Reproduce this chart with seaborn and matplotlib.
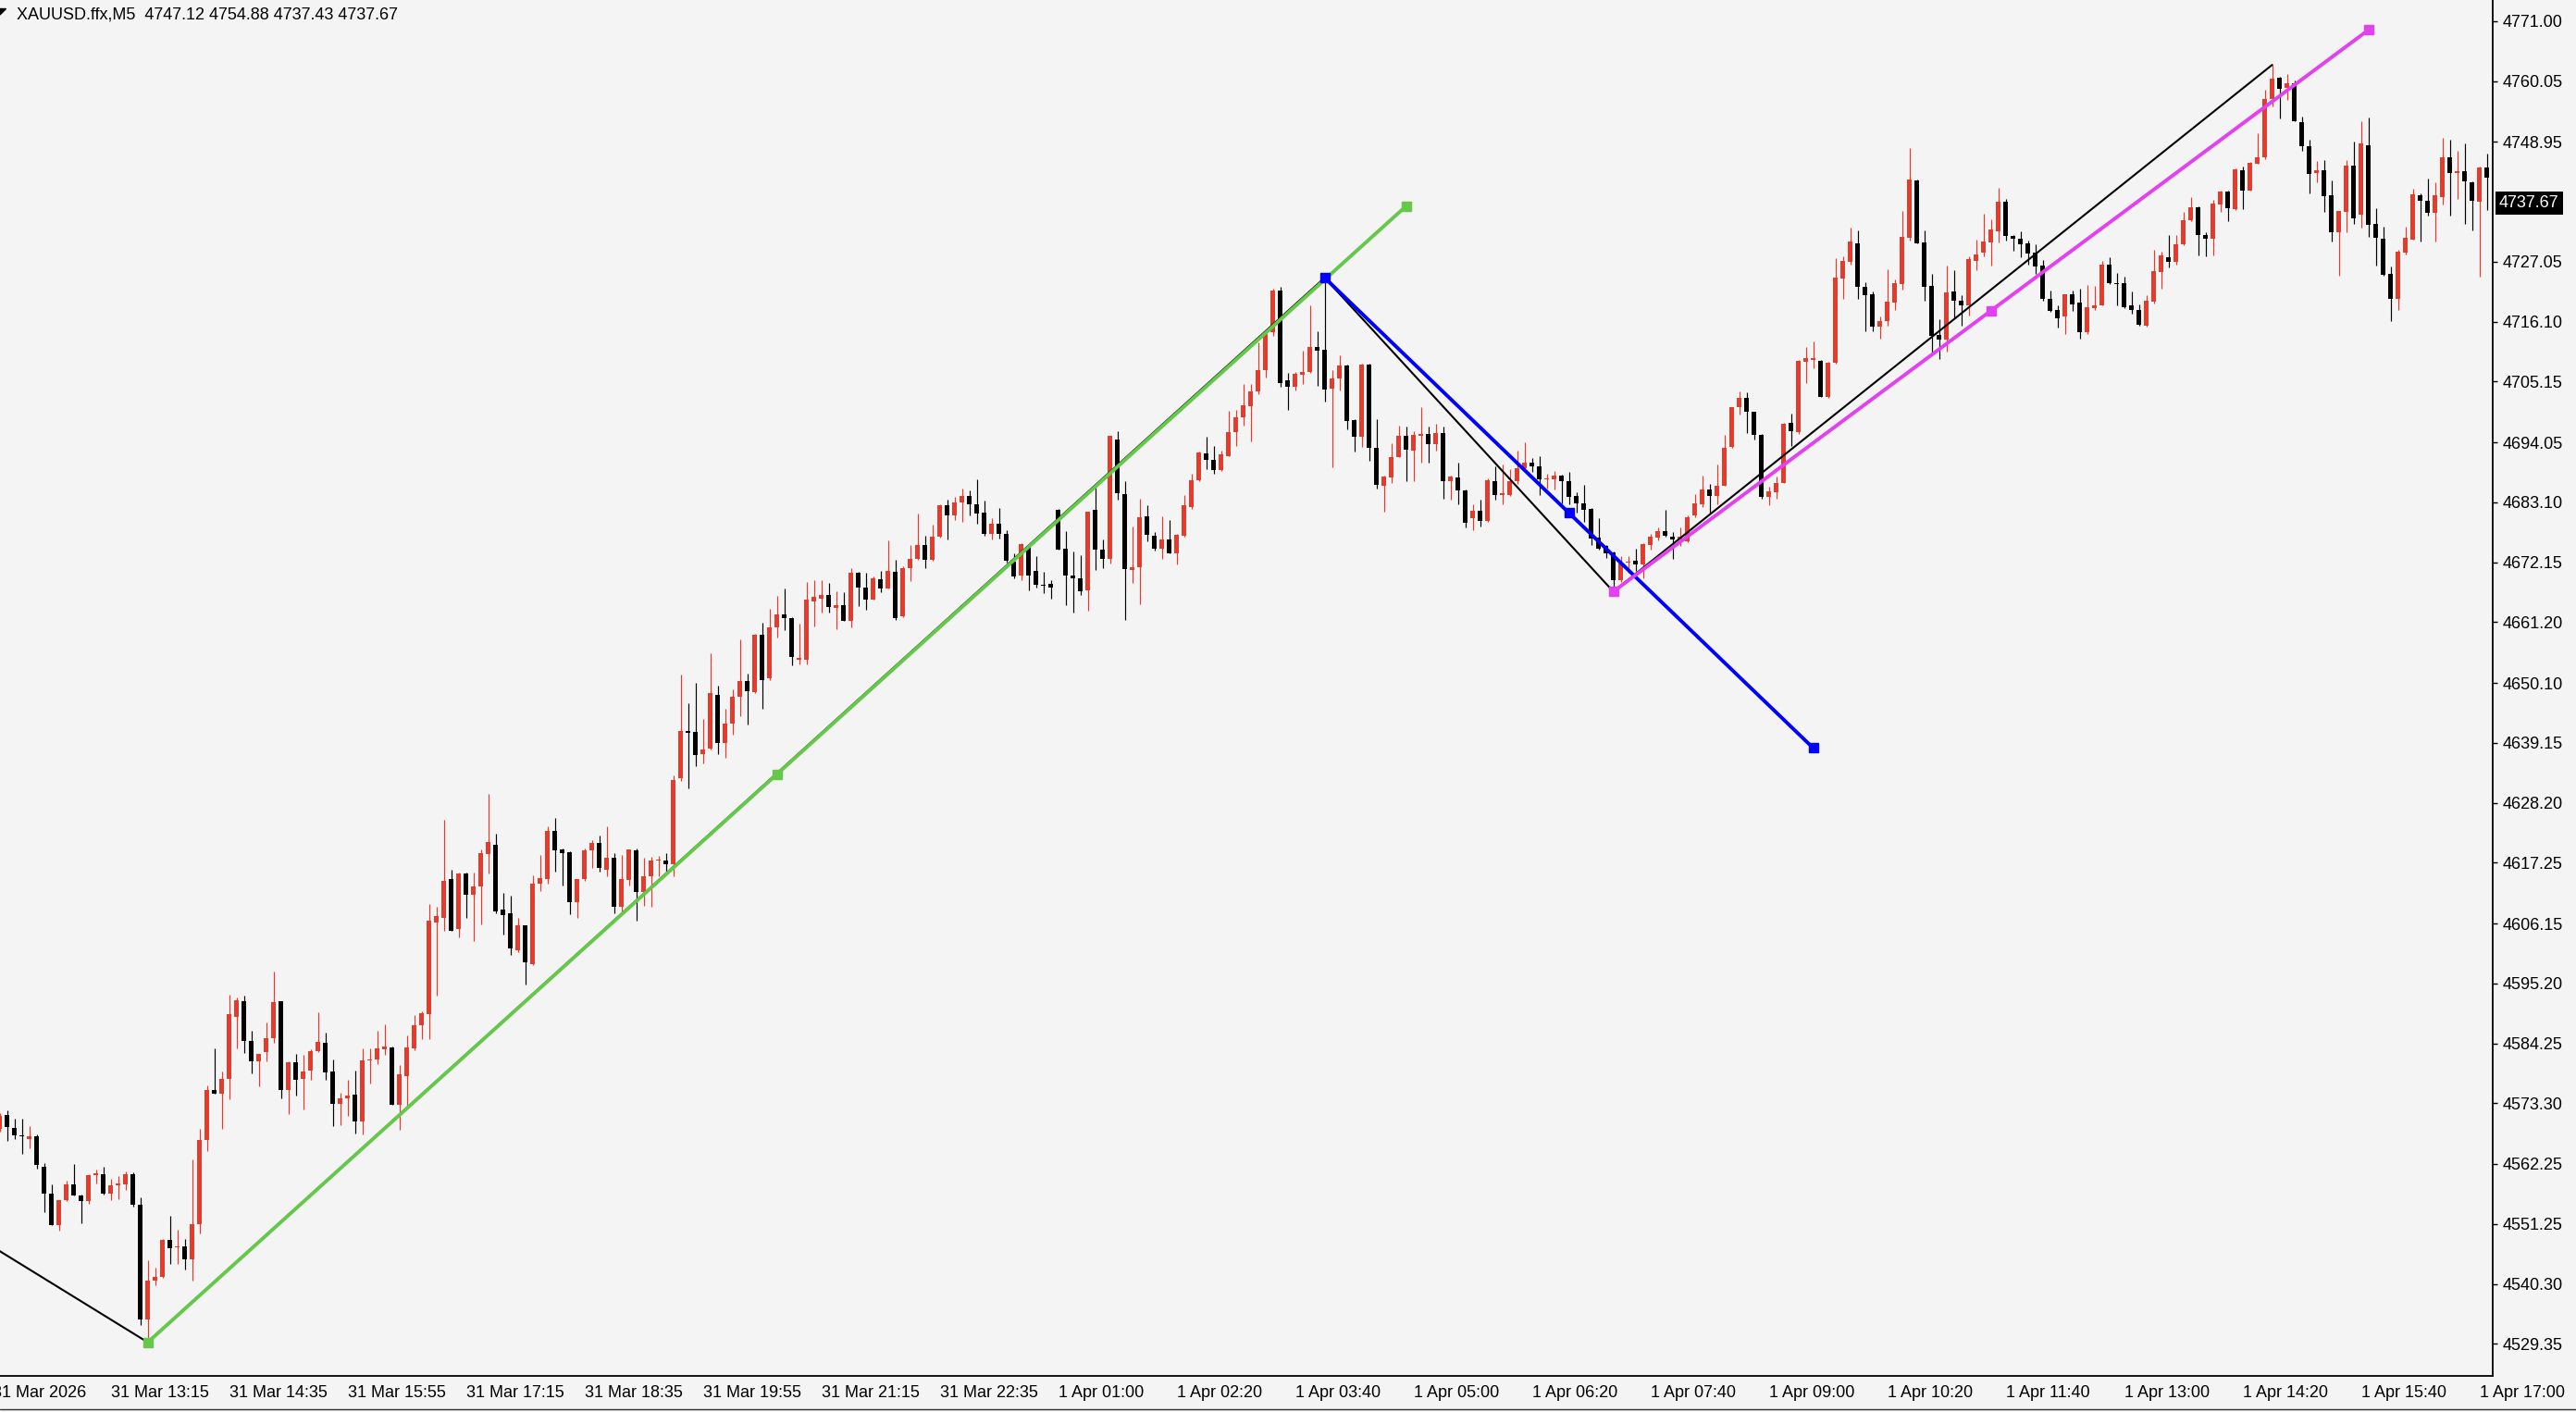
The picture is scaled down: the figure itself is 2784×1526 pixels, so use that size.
import numpy as np
import pandas as pd
import matplotlib.pyplot as plt
import matplotlib.transforms as mtransforms
from matplotlib.lines import Line2D
from matplotlib.patches import Polygon
import seaborn as sns

W, H, DPI = 2784, 1526, 100
BG = "#F4F4F4"
BULL = "#E53A2C"
BEAR = "#000000"

# bar index 0 = 31 Mar 13:15, one bar = 5 minutes
FIRST_BAR = -15

opens = [
    4568.65, 4571.24, 4568.76, 4567.41, 4566.73, 4567.30, 4561.77, 4556.81, 4551.06, 4555.57,
    4558.56, 4556.42, 4555.46, 4560.20, 4560.36, 4556.81, 4558.39, 4558.50, 4560.36, 4554.73,
    4533.87, 4540.92, 4541.59, 4548.36, 4546.95, 4547.12, 4544.86, 4551.23, 4566.57, 4575.75,
    4575.02, 4577.73, 4589.00, 4592.04, 4584.77, 4580.94, 4582.63, 4585.17, 4591.93, 4575.70,
    4580.77, 4577.73, 4579.25, 4582.91, 4584.43, 4579.08, 4573.16, 4574.17, 4574.91, 4569.95,
    4581.15, 4581.27, 4583.21, 4583.57, 4573.00, 4578.25, 4583.27, 4587.61, 4589.55, 4606.34,
    4607.24, 4614.19, 4605.13, 4615.22, 4611.47, 4612.86, 4618.90, 4620.53, 4608.75, 4607.97,
    4601.21, 4605.74, 4598.79, 4613.40, 4614.19, 4623.07, 4619.63, 4619.14, 4609.96, 4614.19,
    4619.51, 4620.84, 4616.00, 4618.24, 4609.18, 4614.07, 4619.45, 4611.89, 4614.80, 4617.60,
    4617.64, 4616.91, 4632.73, 4641.37, 4641.19, 4637.14, 4638.17, 4647.83, 4639.13, 4642.63,
    4647.65, 4650.36, 4648.37, 4658.82, 4650.91, 4660.27, 4662.56, 4661.96, 4654.40, 4654.41,
    4664.98, 4665.47, 4666.19, 4663.77, 4664.38, 4661.48, 4670.30, 4667.58, 4665.40, 4669.03,
    4667.40, 4670.42, 4662.26, 4671.14, 4672.83, 4675.25, 4672.53, 4676.76, 4682.50, 4680.68,
    4683.10, 4684.31, 4682.80, 4681.29, 4677.24, 4679.17, 4677.24, 4672.23, 4669.63, 4674.95,
    4670.60, 4668.00, 4668.12, 4681.66, 4674.61, 4669.71, 4669.26, 4667.00, 4681.66, 4674.50,
    4672.81, 4694.62, 4684.65, 4670.72, 4671.29, 4680.59, 4677.04, 4674.61, 4676.30, 4673.77,
    4677.04, 4682.28, 4687.07, 4692.09, 4690.85, 4688.99, 4691.58, 4695.92, 4698.63, 4700.71,
    4703.42, 4707.20, 4714.24, 4721.74, 4705.33, 4704.26, 4706.46, 4706.91, 4711.42, 4710.97,
    4703.81, 4705.67, 4708.15, 4698.18, 4695.07, 4708.32, 4693.10, 4686.17, 4687.64, 4691.41,
    4695.25, 4692.54, 4695.25, 4695.64, 4693.78, 4695.81, 4686.90, 4687.64, 4685.32, 4680.25,
    4681.54, 4679.74, 4687.01, 4684.48, 4684.48, 4686.90, 4689.27, 4690.28, 4689.72, 4687.29,
    4687.35, 4688.03, 4687.01, 4684.20, 4682.96, 4681.83, 4676.64, 4675.06, 4673.94, 4668.86,
    4672.00, 4672.36, 4671.68, 4675.23, 4676.64, 4677.77, 4676.75, 4676.30, 4675.91, 4680.70,
    4682.67, 4685.49, 4684.25, 4686.17, 4693.21, 4700.43, 4702.12, 4699.59, 4695.47, 4684.08,
    4684.94, 4686.66, 4697.52, 4695.86, 4708.84, 4709.13, 4709.01, 4702.27, 4708.55, 4724.00,
    4727.02, 4730.45, 4722.45, 4721.13, 4715.13, 4716.27, 4719.59, 4723.02, 4731.43, 4741.88,
    4730.56, 4722.56, 4713.70, 4712.84, 4721.53, 4719.99, 4719.13, 4727.13, 4728.73, 4730.56,
    4732.57, 4737.99, 4731.82, 4731.31, 4730.39, 4728.73, 4726.28, 4720.27, 4718.27, 4717.01,
    4721.02, 4719.53, 4714.10, 4718.61, 4719.13, 4726.56, 4723.13, 4723.13, 4719.03, 4718.19,
    4715.37, 4719.77, 4725.23, 4727.94, 4726.93, 4730.31, 4734.70, 4736.96, 4732.00, 4731.32,
    4737.52, 4739.89, 4736.62, 4743.72, 4740.06, 4744.96, 4746.09, 4756.69, 4760.63, 4758.78,
    4759.62, 4752.46, 4748.06, 4743.16, 4743.72, 4739.16, 4732.45, 4736.11, 4744.57, 4735.66,
    4748.35, 4733.86, 4731.32, 4724.78, 4720.27, 4728.62, 4731.15, 4739.21, 4738.20, 4735.94,
    4738.93, 4746.09, 4743.27, 4743.55, 4741.58, 4738.03, 4744.23,
]

highs = [
    4571.50, 4572.03, 4570.51, 4570.51, 4569.10, 4567.69, 4562.45, 4558.50, 4555.68, 4559.24,
    4562.20, 4556.59, 4560.36, 4561.21, 4561.77, 4559.52, 4559.97, 4560.93, 4560.65, 4556.14,
    4544.58, 4543.29, 4548.53, 4552.75, 4550.22, 4548.53, 4563.07, 4568.65, 4576.54, 4583.36,
    4579.14, 4593.06, 4592.66, 4592.89, 4586.58, 4582.35, 4588.10, 4597.40, 4592.04, 4581.05,
    4582.35, 4582.18, 4583.20, 4589.85, 4586.13, 4581.39, 4575.30, 4577.67, 4579.25, 4583.36,
    4583.39, 4586.59, 4587.80, 4583.69, 4580.25, 4585.68, 4589.43, 4590.03, 4609.66, 4609.18,
    4625.06, 4615.88, 4615.40, 4615.40, 4615.40, 4619.63, 4629.89, 4622.47, 4611.77, 4611.17,
    4607.24, 4605.90, 4614.92, 4618.72, 4623.85, 4625.36, 4619.80, 4619.32, 4614.19, 4619.93,
    4621.44, 4622.16, 4623.85, 4619.02, 4618.60, 4619.75, 4619.93, 4618.12, 4618.30, 4618.54,
    4619.02, 4633.22, 4651.64, 4646.32, 4650.13, 4643.48, 4655.56, 4649.52, 4645.35, 4648.85,
    4658.03, 4651.87, 4659.12, 4661.05, 4663.59, 4666.07, 4667.28, 4662.14, 4660.87, 4668.48,
    4668.79, 4668.79, 4668.42, 4666.91, 4666.61, 4671.02, 4670.42, 4670.30, 4669.51, 4670.60,
    4676.15, 4672.53, 4671.32, 4675.25, 4681.11, 4677.06, 4679.05, 4682.80, 4683.52, 4684.01,
    4685.52, 4685.34, 4687.33, 4683.40, 4680.26, 4682.01, 4677.97, 4673.74, 4675.55, 4675.10,
    4673.26, 4670.42, 4668.91, 4681.80, 4677.88, 4674.05, 4673.49, 4681.43, 4685.77, 4676.30,
    4695.19, 4696.03, 4686.90, 4678.73, 4683.80, 4682.50, 4677.70, 4680.53, 4679.86, 4677.32,
    4684.37, 4688.31, 4692.43, 4695.07, 4693.38, 4692.54, 4699.87, 4699.98, 4704.66, 4704.66,
    4712.27, 4714.52, 4722.13, 4722.41, 4706.80, 4706.92, 4710.86, 4719.03, 4714.41, 4724.11,
    4707.19, 4709.90, 4708.30, 4698.30, 4708.40, 4708.40, 4698.35, 4688.03, 4693.95, 4697.05,
    4696.88, 4696.03, 4700.43, 4696.88, 4697.50, 4696.88, 4688.03, 4690.28, 4685.50, 4682.67,
    4683.52, 4687.46, 4689.61, 4690.00, 4689.16, 4692.54, 4694.12, 4691.24, 4691.58, 4688.31,
    4688.87, 4688.10, 4688.59, 4684.93, 4686.34, 4682.00, 4680.14, 4675.35, 4674.10, 4673.26,
    4673.26, 4674.61, 4675.63, 4677.32, 4678.56, 4681.66, 4677.60, 4678.45, 4680.70, 4684.65,
    4688.03, 4686.51, 4690.00, 4695.36, 4700.54, 4703.42, 4703.25, 4699.70, 4695.64, 4686.00,
    4687.80, 4697.52, 4699.23, 4709.13, 4711.41, 4712.55, 4709.13, 4708.84, 4727.70, 4728.11,
    4733.25, 4732.68, 4723.25, 4721.53, 4716.96, 4725.70, 4723.88, 4736.28, 4747.83, 4742.00,
    4732.74, 4724.85, 4716.56, 4726.39, 4725.42, 4720.85, 4727.99, 4731.02, 4735.88, 4734.74,
    4740.57, 4738.57, 4732.00, 4732.57, 4730.85, 4730.28, 4727.42, 4721.82, 4719.13, 4721.13,
    4721.70, 4722.10, 4722.73, 4722.56, 4727.25, 4727.82, 4725.02, 4724.27, 4721.57, 4719.32,
    4721.01, 4729.18, 4728.90, 4731.89, 4731.89, 4736.11, 4738.88, 4737.18, 4732.45, 4738.31,
    4740.00, 4740.00, 4744.12, 4744.40, 4745.25, 4750.49, 4758.49, 4763.00, 4760.86, 4761.31,
    4760.07, 4753.53, 4749.30, 4745.41, 4745.53, 4741.86, 4736.35, 4745.64, 4749.02, 4752.69,
    4753.42, 4736.90, 4733.41, 4726.25, 4729.29, 4733.52, 4740.34, 4739.44, 4742.26, 4741.58,
    4749.64, 4749.30, 4747.22, 4748.63, 4741.70, 4744.40, 4746.82,
]

lows = [
    4568.20, 4566.45, 4566.73, 4564.03, 4565.04, 4561.38, 4553.43, 4551.06, 4550.05, 4555.46,
    4556.42, 4551.35, 4555.01, 4558.67, 4556.70, 4555.57, 4555.86, 4557.43, 4554.45, 4532.74,
    4529.64, 4540.07, 4541.48, 4544.02, 4544.02, 4542.89, 4540.92, 4549.49, 4564.59, 4575.02,
    4568.71, 4574.01, 4583.31, 4582.52, 4578.80, 4576.43, 4580.94, 4584.43, 4574.17, 4571.36,
    4574.74, 4572.20, 4577.56, 4582.63, 4577.56, 4569.10, 4569.27, 4571.07, 4567.86, 4567.69,
    4576.86, 4580.49, 4582.18, 4573.00, 4568.41, 4572.82, 4583.00, 4585.08, 4585.08, 4593.05,
    4604.83, 4604.83, 4603.62, 4607.24, 4603.02, 4606.04, 4615.28, 4608.03, 4604.17, 4600.42,
    4601.00, 4595.04, 4598.60, 4612.08, 4613.47, 4615.58, 4613.16, 4607.85, 4607.12, 4613.90,
    4616.31, 4615.70, 4614.80, 4607.97, 4608.15, 4613.16, 4606.64, 4609.36, 4609.24, 4614.80,
    4615.70, 4614.80, 4632.13, 4630.80, 4634.91, 4635.33, 4637.90, 4637.14, 4636.41, 4640.64,
    4644.02, 4642.51, 4648.25, 4645.35, 4650.60, 4658.46, 4659.73, 4653.38, 4653.50, 4653.50,
    4660.45, 4662.87, 4662.99, 4659.97, 4661.36, 4660.33, 4664.07, 4663.47, 4665.28, 4666.67,
    4667.28, 4661.66, 4662.08, 4668.72, 4672.53, 4671.02, 4672.41, 4676.58, 4676.27, 4679.78,
    4679.60, 4680.68, 4679.17, 4677.06, 4676.27, 4676.46, 4672.11, 4669.21, 4668.91, 4667.09,
    4667.58, 4666.49, 4665.46, 4674.50, 4664.35, 4662.94, 4666.16, 4663.34, 4670.67, 4671.01,
    4671.96, 4683.63, 4661.65, 4668.30, 4664.46, 4675.91, 4674.20, 4672.81, 4673.77, 4671.79,
    4676.76, 4681.83, 4686.90, 4689.16, 4688.31, 4688.87, 4691.50, 4693.38, 4697.05, 4694.23,
    4702.85, 4705.90, 4713.57, 4704.26, 4699.98, 4703.53, 4704.66, 4706.80, 4704.38, 4701.44,
    4689.44, 4703.53, 4696.37, 4692.37, 4693.21, 4690.68, 4685.60, 4681.43, 4686.62, 4691.30,
    4686.90, 4686.90, 4690.40, 4690.28, 4692.54, 4683.80, 4683.52, 4682.67, 4678.56, 4678.05,
    4678.62, 4679.57, 4683.52, 4682.67, 4684.20, 4686.51, 4688.87, 4688.59, 4684.48, 4685.60,
    4685.49, 4682.96, 4682.67, 4681.26, 4679.57, 4675.35, 4674.50, 4672.92, 4666.78, 4668.58,
    4670.27, 4670.55, 4669.26, 4674.50, 4676.19, 4676.87, 4672.81, 4675.06, 4675.74, 4680.42,
    4682.28, 4681.26, 4682.67, 4686.05, 4693.10, 4699.19, 4695.81, 4694.62, 4683.80, 4682.56,
    4683.68, 4686.55, 4693.40, 4695.57, 4704.83, 4707.58, 4702.27, 4702.10, 4708.40, 4720.27,
    4726.45, 4720.27, 4714.27, 4714.27, 4713.01, 4715.41, 4718.27, 4721.99, 4730.85, 4730.45,
    4719.99, 4710.44, 4709.30, 4710.55, 4716.84, 4715.41, 4717.13, 4725.42, 4727.99, 4726.28,
    4730.56, 4730.85, 4728.96, 4727.88, 4726.56, 4724.85, 4719.99, 4717.87, 4715.01, 4713.81,
    4718.10, 4713.01, 4713.81, 4718.27, 4719.02, 4723.02, 4719.13, 4718.56, 4717.62, 4715.37,
    4715.20, 4719.43, 4722.13, 4726.08, 4726.48, 4730.03, 4734.53, 4728.22, 4728.05, 4728.16,
    4736.06, 4734.37, 4736.51, 4736.62, 4740.00, 4744.85, 4745.81, 4755.39, 4753.14, 4756.63,
    4752.74, 4747.33, 4739.44, 4741.58, 4736.11, 4730.76, 4724.50, 4732.45, 4733.97, 4733.29,
    4731.60, 4726.36, 4724.50, 4716.21, 4718.19, 4728.33, 4731.04, 4730.76, 4735.55, 4730.76,
    4737.52, 4735.49, 4738.48, 4733.86, 4732.84, 4724.39, 4736.51,
]

closes = [
    4571.07, 4568.99, 4567.41, 4567.30, 4567.30, 4562.05, 4556.81, 4551.06, 4555.57, 4558.56,
    4556.42, 4555.46, 4560.20, 4560.53, 4556.81, 4558.39, 4558.56, 4560.36, 4554.73, 4533.87,
    4540.92, 4541.59, 4548.42, 4546.84, 4547.23, 4544.86, 4551.23, 4566.68, 4575.75, 4575.02,
    4577.84, 4589.51, 4592.21, 4584.77, 4580.94, 4582.35, 4585.28, 4591.76, 4575.70, 4580.83,
    4577.56, 4579.08, 4582.91, 4584.60, 4578.97, 4573.16, 4574.29, 4574.74, 4569.95, 4581.22,
    4581.39, 4583.39, 4583.69, 4573.00, 4578.55, 4583.57, 4587.61, 4589.73, 4606.64, 4607.55,
    4614.01, 4604.83, 4615.22, 4611.47, 4612.98, 4619.02, 4620.96, 4608.33, 4607.73, 4601.63,
    4605.74, 4599.09, 4613.40, 4614.37, 4623.07, 4619.51, 4619.02, 4609.96, 4614.19, 4619.51,
    4620.84, 4616.31, 4618.24, 4609.18, 4614.19, 4619.63, 4611.89, 4614.80, 4617.70, 4617.70,
    4616.91, 4632.31, 4641.37, 4640.95, 4636.96, 4637.93, 4648.20, 4639.14, 4642.75, 4647.65,
    4650.36, 4648.55, 4658.94, 4650.60, 4660.27, 4662.56, 4661.96, 4654.83, 4654.59, 4665.28,
    4665.77, 4666.19, 4663.95, 4664.38, 4661.48, 4670.30, 4667.52, 4665.40, 4669.21, 4667.40,
    4670.54, 4661.96, 4671.14, 4672.83, 4675.25, 4672.65, 4676.88, 4682.50, 4680.68, 4683.10,
    4684.31, 4682.80, 4680.99, 4677.24, 4679.17, 4677.24, 4672.41, 4669.51, 4675.43, 4669.63,
    4668.00, 4667.90, 4667.58, 4674.50, 4669.71, 4669.26, 4666.78, 4681.43, 4674.50, 4672.81,
    4695.19, 4684.76, 4670.95, 4671.29, 4680.42, 4677.21, 4674.61, 4676.30, 4673.77, 4677.15,
    4682.50, 4687.18, 4692.26, 4690.85, 4688.99, 4691.81, 4695.92, 4698.63, 4700.88, 4703.42,
    4707.31, 4713.85, 4721.85, 4704.83, 4704.26, 4706.52, 4706.91, 4711.42, 4710.86, 4703.70,
    4705.79, 4708.15, 4697.89, 4695.07, 4708.32, 4693.10, 4686.34, 4687.75, 4691.41, 4695.19,
    4692.71, 4695.36, 4695.64, 4693.78, 4695.81, 4686.90, 4687.75, 4685.32, 4679.40, 4681.54,
    4679.74, 4687.18, 4684.48, 4684.65, 4687.01, 4689.33, 4690.28, 4689.72, 4687.29, 4687.46,
    4688.03, 4687.01, 4684.08, 4682.96, 4681.71, 4676.47, 4674.67, 4673.77, 4668.86, 4671.96,
    4672.24, 4671.68, 4675.46, 4676.75, 4677.88, 4677.04, 4676.30, 4676.87, 4680.31, 4682.84,
    4685.49, 4684.25, 4686.17, 4693.10, 4700.43, 4702.12, 4699.59, 4695.47, 4684.08, 4685.04,
    4686.66, 4697.41, 4696.09, 4709.01, 4709.41, 4709.41, 4702.38, 4708.55, 4724.10, 4727.13,
    4730.68, 4722.45, 4720.85, 4715.13, 4716.27, 4719.70, 4723.13, 4731.54, 4742.11, 4730.45,
    4722.39, 4713.41, 4712.84, 4721.42, 4719.87, 4719.02, 4727.53, 4728.45, 4730.74, 4732.85,
    4737.99, 4731.82, 4731.31, 4730.16, 4728.56, 4726.10, 4720.27, 4718.10, 4716.73, 4721.02,
    4719.25, 4714.10, 4718.67, 4719.13, 4726.56, 4723.13, 4723.00, 4718.67, 4718.30, 4715.48,
    4719.88, 4725.40, 4728.22, 4726.93, 4730.31, 4734.70, 4736.96, 4732.00, 4731.32, 4737.64,
    4739.89, 4736.79, 4743.84, 4740.06, 4745.13, 4746.09, 4756.80, 4760.47, 4758.61, 4759.62,
    4752.74, 4748.06, 4742.99, 4743.72, 4739.05, 4732.45, 4736.23, 4744.57, 4734.99, 4748.63,
    4733.80, 4731.43, 4724.67, 4720.27, 4728.79, 4731.43, 4739.33, 4738.09, 4735.94, 4739.16,
    4746.09, 4743.16, 4743.55, 4741.75, 4738.20, 4744.23, 4742.43,
]

# time labels, one every 16 bars starting at bar -16
time_labels = [
    "31 Mar 2026", "31 Mar 13:15", "31 Mar 14:35", "31 Mar 15:55", "31 Mar 17:15",
    "31 Mar 18:35", "31 Mar 19:55", "31 Mar 21:15", "31 Mar 22:35", "1 Apr 01:00",
    "1 Apr 02:20", "1 Apr 03:40", "1 Apr 05:00", "1 Apr 06:20", "1 Apr 07:40",
    "1 Apr 09:00", "1 Apr 10:20", "1 Apr 11:40", "1 Apr 13:00", "1 Apr 14:20",
    "1 Apr 15:40", "1 Apr 17:00",
]
LABEL_START, LABEL_STEP = -16, 16

price_ticks = [
    4771.00, 4760.05, 4748.95, 4727.05, 4716.10, 4705.15, 4694.05, 4683.10,
    4672.15, 4661.20, 4650.10, 4639.15, 4628.20, 4617.25, 4606.15, 4595.20,
    4584.25, 4573.30, 4562.25, 4551.25, 4540.30, 4529.35,
]

current_price = 4737.67
header = "XAUUSD.ffx,M5  4747.12 4754.88 4737.43 4737.67"

# drawn objects: anchor bars / prices
zigzag_bars = [-15, 5, 164, 203, 292]
zigzag_prices = [4546.30, 4529.64, 4724.11, 4666.78, 4763.00]
green_bars = [5, 175]
green_prices = [4529.64, 4737.20]
blue_bars = [164, 230]
blue_prices = [4724.11, 4638.20]
pink_bars = [203, 305]
pink_prices = [4666.78, 4769.37]

###############################################
# BUILD DATAFRAME
###############################################
df = pd.DataFrame({"open": opens, "high": highs, "low": lows, "close": closes})
df["bar"] = np.arange(len(df)) + FIRST_BAR
df["color"] = np.where(df["close"] > df["open"], BULL, BEAR)
df["body_lo"] = df[["open", "close"]].min(axis=1)
df["body_h"] = (df["close"] - df["open"]).abs().clip(lower=0.2)

###############################################
# PLOT
###############################################
sns.set_style("white", {"axes.facecolor": BG, "figure.facecolor": BG})
plt.rcParams["font.family"] = ["Liberation Sans", "DejaVu Sans"]
FS = 13

fig = plt.figure(figsize=(W / DPI, H / DPI), dpi=DPI, facecolor=BG)
ax = fig.add_axes([0, 39 / H, 2694 / W, 1487 / H])
ax.set_facecolor(BG)

ax.vlines(df["bar"], df["low"], df["high"], colors=df["color"], linewidth=0.85, zorder=2)
ax.bar(df["bar"], df["body_h"], bottom=df["body_lo"], width=0.62,
       color=df["color"], linewidth=0, zorder=3)

sns.lineplot(x=zigzag_bars, y=zigzag_prices, ax=ax, color="black", linewidth=1.5,
             sort=False, estimator=None, zorder=4)

for bars, prices, col in [(green_bars, green_prices, "#66C84A"),
                          (blue_bars, blue_prices, "#0000FF"),
                          (pink_bars, pink_prices, "#E340F0")]:
    sns.lineplot(x=bars, y=prices, ax=ax, color=col, linewidth=2.8,
                 sort=False, estimator=None, zorder=5)
    mx = [bars[0], (bars[0] + bars[1]) / 2, bars[1]]
    my = [prices[0], (prices[0] + prices[1]) / 2, prices[1]]
    ax.plot(mx, my, "s", color=col, markersize=6.5, zorder=6)

ax.set_xlim(-14.96, 321.8)
ax.set_ylim(4523.5, 4774.85)

for s in ["left", "top"]:
    ax.spines[s].set_visible(False)
for s in ["right", "bottom"]:
    ax.spines[s].set_color("black")
    ax.spines[s].set_linewidth(1.3)

# price axis on the right
ax.yaxis.tick_right()
ax.set_yticks(price_ticks)
ax.set_yticklabels([f"{v:.2f}" for v in price_ticks])
ax.tick_params(axis="y", direction="out", length=3.5, width=1, pad=4,
               labelsize=FS, colors="black")

# time axis
label_bars = [LABEL_START + LABEL_STEP * i for i in range(len(time_labels))]
ax.set_xticks([b for b in label_bars if b > -14.96])
ax.set_xticklabels([])
ax.tick_params(axis="x", direction="out", length=3.5, width=1, colors="black")
trans = mtransforms.blended_transform_factory(ax.transData, ax.transAxes)
for b, lbl in zip(label_bars, time_labels):
    ax.text(b + 0.1, -23 / 1487, lbl, transform=trans, ha="left", va="baseline",
            fontsize=FS, color="black", clip_on=False)

# current price box
ax.annotate(f"{current_price:.2f}", xy=(1, current_price),
            xycoords=("axes fraction", "data"), xytext=(7, 0),
            textcoords="offset pixels", ha="left", va="center", fontsize=FS,
            color="white", annotation_clip=False,
            bbox=dict(boxstyle="square,pad=0.22", fc="black", ec="none"))

# header
fig.text(18 / W, 1 - 20.5 / H, header, ha="left", va="baseline", fontsize=FS, color="black")
fig.patches.append(Polygon([[0, 1 - 9.5 / H], [6.5 / W, 1 - 9.5 / H], [0, 1 - 16 / H]],
                           closed=True, transform=fig.transFigure, color="black"))

# bottom border
fig.add_artist(Line2D([0, 1], [3.5 / H, 3.5 / H], transform=fig.transFigure,
                      color="#303030", linewidth=1))

fig.savefig("out.png", dpi=DPI, facecolor=BG)
